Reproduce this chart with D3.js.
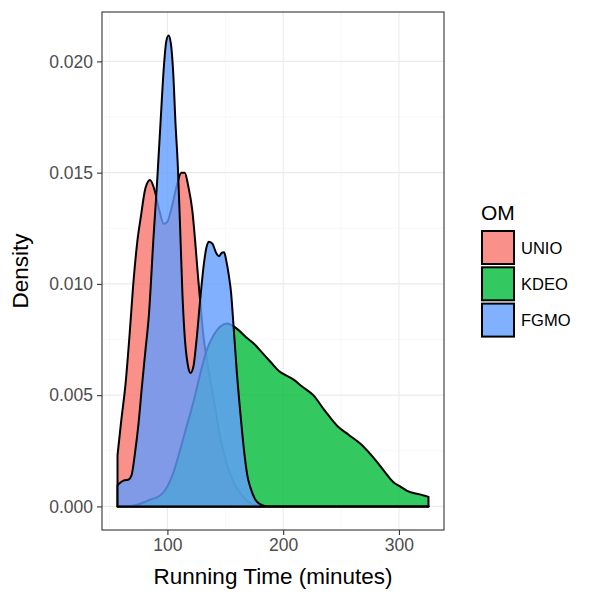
<!DOCTYPE html>
<html>
    <head>
        <title>Running time density</title>
        <script type="text/javascript" src="https://cdn.jsdelivr.net/npm/d3@7"></script>
        <style>
            body{
                margin:0;
                background:white;
            }
            text{
                font-family: "Liberation Sans", Arial, sans-serif;
            }
            .tick_label{
                fill:#4d4d4d;
                font-size:17.5px;
            }
            .title{
                fill:black;
                font-size:22.5px;
            }
            .grid_major{
                stroke:#ebebeb;
                stroke-width:1.1px;
            }
            .grid_minor{
                stroke:#f2f2f2;
                stroke-width:0.6px;
            }
            .density{
                stroke:black;
                stroke-width:2px;
                stroke-linejoin:round;
            }
        </style>
    </head>
    <body>
        <script type="text/javascript">
            // Groups and colours
            let groups = ["UNIO", "KDEO", "FGMO"]
            let colors = ["#F8766D", "#00BA38", "#619CFF"]

            // Density curves (running time, density)
            let unio_x = [56.9, 60, 64, 67, 71, 74, 77, 81, 85, 89, 93, 97, 100, 104, 108, 112, 115, 118, 121.5, 124, 126, 128.5, 131, 134, 137, 141, 146, 152, 158, 163, 170, 178, 190, 325.5]
            let unio_y = [0.0023, 0.0038, 0.0056, 0.0075, 0.0103, 0.0119, 0.0130, 0.0143, 0.01467, 0.0142, 0.0133, 0.0127, 0.0128, 0.0135, 0.0144, 0.0150, 0.0150, 0.0144, 0.0133, 0.0119, 0.0106, 0.0091, 0.0077, 0.0066, 0.0057, 0.0045, 0.0030, 0.0018, 0.0010, 0.0006, 0.0002, 0.00005, 0, 0]

            let kdeo_x = [56.9, 70, 77, 85, 94, 100, 105, 108.6, 115, 123, 129, 134.5, 140, 146, 151.7, 157, 162, 168, 175, 182, 189, 196, 202, 209, 216, 226, 236, 247, 257, 267, 281, 290, 295, 301, 307, 318, 325.5]
            let kdeo_y = [0, 0.00003, 0.00013, 0.0003, 0.0005, 0.0009, 0.0015, 0.0021, 0.0033, 0.0048, 0.0061, 0.0071, 0.0077, 0.0081, 0.00822, 0.0081, 0.0079, 0.0076, 0.0073, 0.0069, 0.0065, 0.0061, 0.0059, 0.0057, 0.0054, 0.0050, 0.0043, 0.0036, 0.0032, 0.0028, 0.0020, 0.0014, 0.0011, 0.0009, 0.0007, 0.00054, 0.00043]

            let fgmo_x = [56.9, 60, 63, 66, 69, 72, 75, 78, 81, 84, 88, 91, 94, 97, 99, 101, 103, 105, 107, 109, 111, 113, 115, 117.5, 120, 122.5, 125, 128.5, 131.5, 134, 136, 139, 142, 144.5, 147, 149, 151, 153, 155, 157, 160, 163, 166, 169, 172, 176, 180, 186, 325.5]
            let fgmo_y = [0.00095, 0.0011, 0.00118, 0.0012, 0.0014, 0.0024, 0.0037, 0.0054, 0.0070, 0.0086, 0.0121, 0.0145, 0.0172, 0.0198, 0.0209, 0.02116, 0.0208, 0.0195, 0.0172, 0.0153, 0.0125, 0.0095, 0.0076, 0.0064, 0.0060, 0.0063, 0.0074, 0.0094, 0.0109, 0.0117, 0.0119, 0.0118, 0.0114, 0.01124, 0.0114, 0.01142, 0.0110, 0.0104, 0.0096, 0.0082, 0.0060, 0.0042, 0.0026, 0.0014, 0.0008, 0.0003, 0.0001, 0, 0]

            let x_ticks = [100, 200, 300]
            let x_minor = [50, 150, 250]
            let y_ticks = [0, 0.005, 0.010, 0.015, 0.020]
            let y_minor = [0.0025, 0.0075, 0.0125, 0.0175]

            let series = [
                {name: groups[0], color: colors[0], pts: d3.zip(unio_x, unio_y)},
                {name: groups[1], color: colors[1], pts: d3.zip(kdeo_x, kdeo_y)},
                {name: groups[2], color: colors[2], pts: d3.zip(fgmo_x, fgmo_y)}
            ]

            // Layout
            let w = 600
            let h = 600
            let p_left = 102
            let p_right = 444
            let p_top = 12
            let p_bottom = 530

            let svg = d3.select("body")
                        .append("svg")
                        .attr("width", w)
                        .attr("height", h)

            let xScale = d3.scaleLinear()
                            .domain([43.5, 338.9])
                            .range([p_left, p_right])
            let yScale = d3.scaleLinear()
                            .domain([-0.00106, 0.02222])
                            .range([p_bottom, p_top])

            // Grid
            svg.selectAll(".gx_minor").data(x_minor).enter().append("line")
                .attr("class", "grid_minor")
                .attr("x1", d => xScale(d)).attr("x2", d => xScale(d))
                .attr("y1", p_top).attr("y2", p_bottom)
            svg.selectAll(".gy_minor").data(y_minor).enter().append("line")
                .attr("class", "grid_minor")
                .attr("y1", d => yScale(d)).attr("y2", d => yScale(d))
                .attr("x1", p_left).attr("x2", p_right)
            svg.selectAll(".gx_major").data(x_ticks).enter().append("line")
                .attr("class", "grid_major")
                .attr("x1", d => xScale(d)).attr("x2", d => xScale(d))
                .attr("y1", p_top).attr("y2", p_bottom)
            svg.selectAll(".gy_major").data(y_ticks).enter().append("line")
                .attr("class", "grid_major")
                .attr("y1", d => yScale(d)).attr("y2", d => yScale(d))
                .attr("x1", p_left).attr("x2", p_right)

            // Densities
            let area = d3.area()
                            .x(d => xScale(d[0]))
                            .y0(yScale(0))
                            .y1(d => yScale(d[1]))
                            .curve(d3.curveMonotoneX)
            svg.selectAll(".density").data(series).enter().append("path")
                .attr("class", "density")
                .attr("d", d => area(d.pts))
                .attr("fill", d => d.color)
                .attr("fill-opacity", 0.8)

            // Panel border
            svg.append("rect")
                .attr("x", p_left).attr("y", p_top)
                .attr("width", p_right - p_left).attr("height", p_bottom - p_top)
                .attr("fill", "none")
                .attr("stroke", "#333333")
                .attr("stroke-width", 1.1)

            // Axes
            let xAxis = d3.axisBottom(xScale)
                            .tickValues(x_ticks)
                            .tickSize(5)
                            .tickPadding(4)
                            .tickFormat(d3.format("d"))
            let yAxis = d3.axisLeft(yScale)
                            .tickValues(y_ticks)
                            .tickSize(5)
                            .tickPadding(4)
                            .tickFormat(d3.format(".3f"))
            let gx = svg.append("g")
                .attr("transform", "translate(0," + p_bottom + ")")
                .call(xAxis)
            let gy = svg.append("g")
                .attr("transform", "translate(" + p_left + ",0)")
                .call(yAxis)
            for (let g of [gx, gy]){
                g.select(".domain").remove()
                g.selectAll("line").attr("stroke", "#333333").attr("stroke-width", 1.1)
                g.selectAll("text").attr("class", "tick_label").attr("fill", null)
                g.attr("font-family", null).attr("font-size", null)
            }

            // Axis titles
            svg.append("text")
                .attr("class", "title")
                .attr("x", (p_left + p_right) / 2)
                .attr("y", 584)
                .attr("text-anchor", "middle")
                .text("Running Time (minutes)")
            svg.append("text")
                .attr("class", "title")
                .attr("transform", "translate(28," + ((p_top + p_bottom) / 2) + ") rotate(-90)")
                .attr("text-anchor", "middle")
                .text("Density")

            // Legend
            let lg = svg.append("g").attr("transform", "translate(481,0)")
            lg.append("text")
                .attr("class", "title")
                .attr("x", 0)
                .attr("y", 220)
                .style("font-size", "21px")
                .text("OM")
            let keys = lg.selectAll(".key").data(series).enter().append("g")
                .attr("transform", (d, i) => "translate(0," + (231 + i * 36.3) + ")")
            keys.append("rect")
                .attr("x", 1).attr("y", 0)
                .attr("width", 32).attr("height", 33)
                .attr("fill", d => d.color)
                .attr("fill-opacity", 0.8)
                .attr("stroke", "black")
                .attr("stroke-width", 2)
            keys.append("text")
                .attr("x", 40)
                .attr("y", 22.5)
                .style("font-size", "16.5px")
                .attr("fill", "black")
                .text(d => d.name)
        </script>
    </body>
</html>
